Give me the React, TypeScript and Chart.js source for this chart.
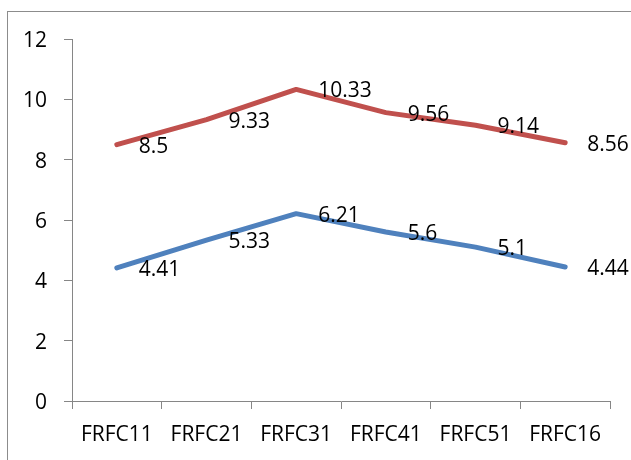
import React, { useEffect, useRef } from "react";
import { Chart, registerables } from "chart.js";

Chart.register(...registerables);

const categories = ["FRFC11", "FRFC21", "FRFC31", "FRFC41", "FRFC51", "FRFC16"];
const redSeries = [8.5, 9.33, 10.33, 9.56, 9.14, 8.56];
const blueSeries = [4.41, 5.33, 6.21, 5.6, 5.1, 4.44];
const yTicks = [0, 2, 4, 6, 8, 10, 12];

const FONT = "'Open Sans', 'Liberation Sans', sans-serif";
const AXIS_GRAY = "#868686";

const labelPlugin = {
  id: "valueLabels",
  afterDatasetsDraw(chart: any) {
    const ctx = chart.ctx;
    ctx.save();
    ctx.font = `21px ${FONT}`;
    ctx.fillStyle = "#000000";
    ctx.textAlign = "left";
    ctx.textBaseline = "middle";
    chart.data.datasets.forEach((ds: any, i: number) => {
      const meta = chart.getDatasetMeta(i);
      meta.data.forEach((pt: any, j: number) => {
        ctx.fillText(String(ds.data[j]), pt.x + 22, pt.y + 2);
      });
    });
    ctx.restore();
  },
};

export default function App() {
  const ref = useRef<HTMLCanvasElement | null>(null);
  useEffect(() => {
    if (!ref.current) return;
    const chart = new Chart(ref.current, {
      type: "line",
      data: {
        labels: categories,
        datasets: [
          {
            data: blueSeries,
            borderColor: "#4F81BD",
            borderWidth: 5,
            pointRadius: 0,
            tension: 0,
            borderCapStyle: "round",
            borderJoinStyle: "round",
          },
          {
            data: redSeries,
            borderColor: "#C0504D",
            borderWidth: 5,
            pointRadius: 0,
            tension: 0,
            borderCapStyle: "round",
            borderJoinStyle: "round",
          },
        ],
      },
      options: {
        responsive: false,
        animation: false,
        events: [],
        layout: { padding: { left: 0, right: 21, top: 39, bottom: 0 } },
        plugins: { legend: { display: false }, tooltip: { enabled: false } },
        scales: {
          x: {
            type: "category",
            offset: true,
            grid: {
              offset: true,
              drawOnChartArea: false,
              drawTicks: true,
              tickLength: 8,
              color: AXIS_GRAY,
            },
            border: { display: true, color: AXIS_GRAY, width: 1 },
            ticks: {
              font: { family: FONT, size: 21 },
              color: "#000000",
              padding: 13,
              maxRotation: 0,
              autoSkip: false,
            },
            afterFit: (s: any) => {
              s.height = 59;
            },
          },
          y: {
            min: 0,
            max: 12,
            afterBuildTicks: (s: any) => {
              s.ticks = yTicks.map((v) => ({ value: v }));
            },
            grid: {
              drawOnChartArea: false,
              drawTicks: true,
              tickLength: 8,
              color: AXIS_GRAY,
            },
            border: { display: true, color: AXIS_GRAY, width: 1 },
            ticks: {
              font: { family: FONT, size: 21 },
              color: "#000000",
              padding: 17,
              labelOffset: 2,
            },
            afterFit: (s: any) => {
              s.width = 72;
            },
          },
        },
      },
      plugins: [labelPlugin],
    });
    return () => chart.destroy();
  }, []);
  return (
    <div style={{ position: "absolute", left: 0, top: 0, width: 631, height: 460, background: "#fff" }}>
      <div
        style={{
          position: "absolute",
          left: 7,
          top: 11,
          width: 700,
          height: 500,
          borderTop: "1px solid #8c8c8c",
          borderLeft: "1px solid #8c8c8c",
          boxSizing: "border-box",
        }}
      />
      <canvas ref={ref} width={631} height={460} style={{ position: "absolute", left: 0, top: 0 }} />
    </div>
  );
}
